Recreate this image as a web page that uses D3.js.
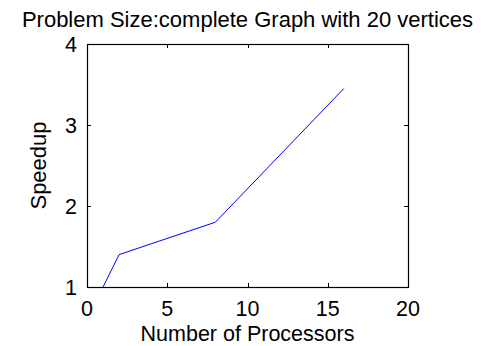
<!DOCTYPE html>
<html><head><meta charset="utf-8">
<script src="https://cdn.jsdelivr.net/npm/d3@7"></script>
<style>body{margin:0;background:#fff}svg{display:block}text{font-family:"Liberation Sans",Arial,sans-serif;fill:#000}</style>
</head><body>
<script>
const processors = [1, 2, 8, 16];
const speedup = [1, 1.4, 1.8, 3.45];
const xTicks = [0, 5, 10, 15, 20];
const yTicks = [1, 2, 3, 4];
const title = "Problem Size:complete Graph with 20 vertices";
const xLabel = "Number of Processors";
const yLabel = "Speedup";

const W = 481, H = 346;
const L = 87, R = 408, T = 44, B = 287;
const svg = d3.select("body").append("svg").attr("width", W).attr("height", H);
const x = d3.scaleLinear().domain([0, 20]).range([L, R]);
const y = d3.scaleLinear().domain([1, 4]).range([B, T]);

const fs = 21.5, fl = 22;
// ticks
const tk = 4;
const g = svg.append("g").attr("stroke", "#000").attr("stroke-width", 1);
xTicks.forEach(v => {
  const px = Math.round(x(v)) + 0.5;
  g.append("line").attr("x1", px).attr("x2", px).attr("y1", B).attr("y2", B - tk);
  g.append("line").attr("x1", px).attr("x2", px).attr("y1", T).attr("y2", T + tk);
});
yTicks.forEach(v => {
  const py = Math.round(y(v)) + 0.5;
  g.append("line").attr("x1", L).attr("x2", L + tk).attr("y1", py).attr("y2", py);
  g.append("line").attr("x1", R).attr("x2", R - tk).attr("y1", py).attr("y2", py);
});

// line
const line = d3.line().x((d, i) => x(processors[i])).y(d => y(d));
svg.append("path").datum(speedup).attr("d", line)
  .attr("fill", "none").attr("stroke", "#0000ff").attr("stroke-width", 1);

// box
svg.append("rect").attr("x", L + 0.5).attr("y", T + 0.5).attr("width", R - L).attr("height", B - T)
  .attr("fill", "none").attr("stroke", "#000").attr("stroke-width", 1.2);

// tick labels
svg.selectAll(".xt").data(xTicks).enter().append("text")
  .attr("x", d => x(d)).attr("y", B + 29).attr("text-anchor", "middle")
  .attr("font-size", fs).text(d => d);
svg.selectAll(".yt").data(yTicks).enter().append("text")
  .attr("x", L - 10).attr("y", d => y(d) + 8).attr("text-anchor", "end")
  .attr("font-size", fs).text(d => d);

// labels
svg.append("text").attr("x", (L + R) / 2).attr("y", 27).attr("text-anchor", "middle")
  .attr("font-size", fl).text(title);
svg.append("text").attr("x", (L + R) / 2).attr("y", 341).attr("text-anchor", "middle")
  .attr("font-size", 21.5).text(xLabel);
svg.append("text").attr("transform", `translate(46,${(T + B) / 2}) rotate(-90)`)
  .attr("text-anchor", "middle").attr("font-size", fl).text(yLabel);
</script>
</body></html>
